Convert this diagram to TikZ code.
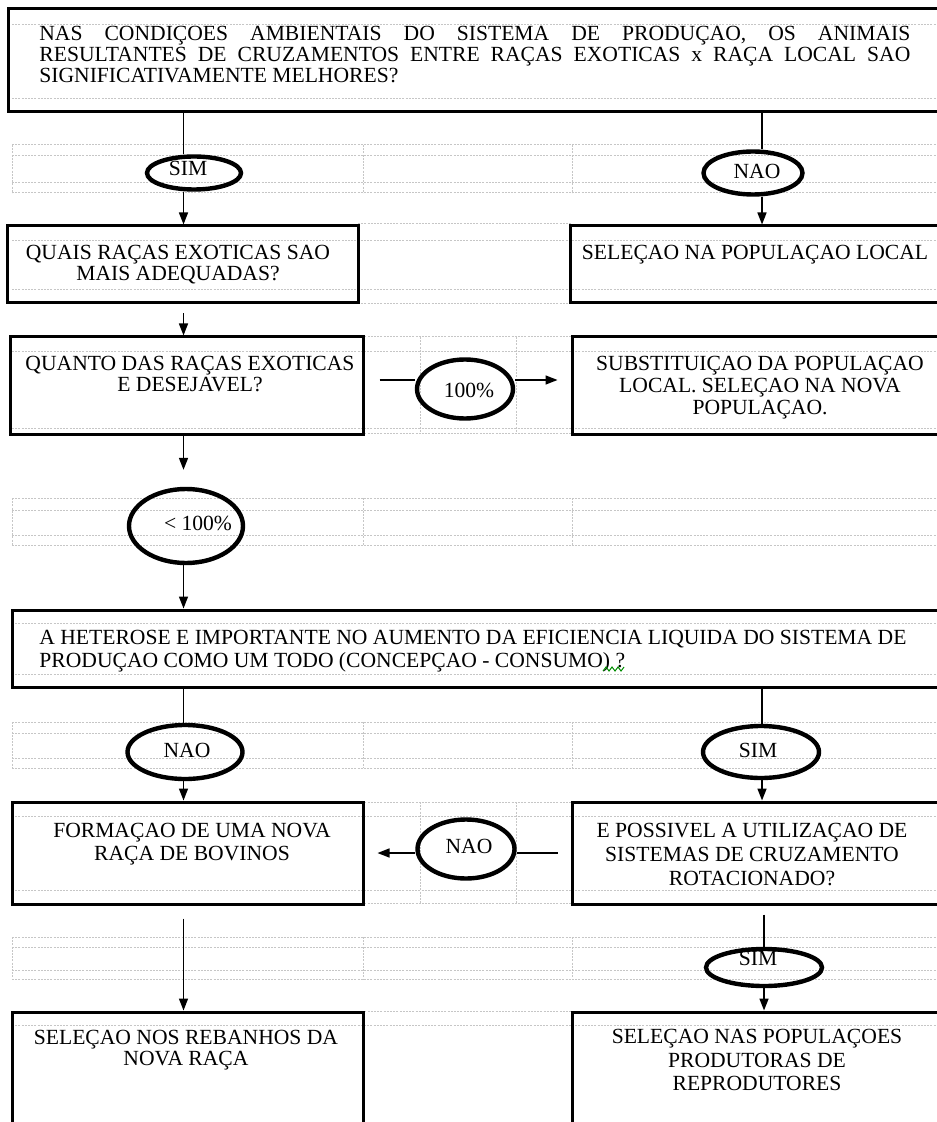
\documentclass[tikz,border=0pt]{standalone}
\usepackage{fontspec}
\setmainfont{Liberation Serif}
\usetikzlibrary{shapes.geometric, arrows.meta}

\tikzset{
	box/.style={draw, line width=1.5pt, rectangle, inner sep=0pt},
	oval/.style={draw, line width=2.2pt, ellipse, inner sep=0pt},
	txt/.style={inner sep=0pt, font=\fontsize{10.8}{11}\selectfont, align=center},
	link/.style={line width=0.8pt},
	arrow/.style={line width=0.8pt, -{Triangle[width=4.5pt,length=6pt]}},
	cell/.style={gray!45, line width=0.5pt, dash pattern=on 1pt off 0.6pt},
}

\begin{document}
\begin{tikzpicture}[x=0.5pt, y=-0.5pt]
	\useasboundingbox (0,0) rectangle (936,1122);
	
	% table grid behind the boxes
	\foreach \y in {25,99,145,156,183,193,241,290,352,428,498,510,535,545,623,674,722,733,758,768,816,890,937,947,970,979,1025}
		\draw[cell] (12,\y) -- (936,\y);
	\foreach \y in {224,304,337,433,802,903,1011}
		\draw[cell] (358,\y) -- (572,\y);
	\foreach \ya/\yb in {145/193,498/545,722/768,937/979}
		\foreach \x in {12,363,572}
			\draw[cell] (\x,\ya) -- (\x,\yb);
	\foreach \ya/\yb in {337/433,802/903}
		\foreach \x in {420,516}
			\draw[cell] (\x,\ya) -- (\x,\yb);
	
	% columns and rows of the connectors
	\coordinate (colL) at (183.5,0);
	\coordinate (colR) at (762,0);
	\coordinate (colS) at (764,0);
	\coordinate (rowD) at (0,380);
	\coordinate (rowH) at (0,853);
	
	% boxes
	\node[box, minimum width=469.5pt, minimum height=51.5pt] (topq) at (477.5,60.5) {};
	\node[box, minimum width=175.5pt, minimum height=38.5pt] (qexot) at (182.5,264.5) {};
	\node[box, minimum width=188.5pt, minimum height=38.5pt] (sloc) at (758.5,264.5) {};
	\node[box, minimum width=176.5pt, minimum height=48.5pt] (qdes) at (186.5,385.5) {};
	\node[box, minimum width=187.5pt, minimum height=48.5pt] (subs) at (759.5,385.5) {};
	\node[box, minimum width=467.5pt, minimum height=38.5pt] (het) at (479.5,648.5) {};
	\node[box, minimum width=175.5pt, minimum height=51pt] (form) at (187.5,853) {};
	\node[box, minimum width=187.5pt, minimum height=51pt] (rot) at (759.5,853) {};
	\node[box, minimum width=175.5pt, minimum height=61.5pt] (selr) at (187.5,1073.5) {};
	\node[box, minimum width=187.5pt, minimum height=61.5pt] (selp) at (759.5,1073.5) {};
	
	% box texts
	\node[txt, align=left, anchor=north west, font=\fontsize{10.8}{10.5}\selectfont] (topq-t) at (39,26)
		{\makebox[435.5pt][s]{NAS CONDIÇOES AMBIENTAIS DO SISTEMA DE PRODUÇAO, OS ANIMAIS}\\
		 \makebox[435.5pt][s]{RESULTANTES DE CRUZAMENTOS ENTRE RAÇAS EXOTICAS x RAÇA LOCAL SAO}\\
		 SIGNIFICATIVAMENTE MELHORES?};
	\node[txt, anchor=north, font=\fontsize{10.8}{10.5}\selectfont] (qexot-t) at (178,245) {QUAIS RAÇAS EXOTICAS SAO\\MAIS ADEQUADAS?};
	\node[txt, anchor=north] (sloc-t) at (755,245) {SELEÇAO NA POPULAÇAO LOCAL};
	\node[txt, anchor=north, font=\fontsize{10.8}{10.5}\selectfont] (qdes-t) at (190,356) {QUANTO DAS RAÇAS EXOTICAS\\E DESEJAVEL?};
	\node[txt, anchor=north] (subs-t) at (760,356) {SUBSTITUIÇAO DA POPULAÇAO\\LOCAL. SELEÇAO NA NOVA\\POPULAÇAO.};
	\node[txt, align=left, anchor=north west, font=\fontsize{10.8}{11.5}\selectfont] (het-t) at (39,630)
		{A HETEROSE E IMPORTANTE NO AUMENTO DA EFICIENCIA LIQUIDA DO SISTEMA DE\\
		 PRODUÇAO COMO UM TODO (CONCEPÇAO - CONSUMO) ?};
	\draw[green!55!black, line width=0.5pt] (603,671) -- (606,667) -- (609,671) -- (612,667) -- (615,671) -- (618,667) -- (621,671) -- (624,667);
	\node[txt, anchor=north, font=\fontsize{10.8}{11.5}\selectfont] (form-t) at (192,823) {FORMAÇAO DE UMA NOVA\\RAÇA DE BOVINOS};
	\node[txt, anchor=north, font=\fontsize{10.8}{12}\selectfont] (rot-t) at (752,823) {E POSSIVEL A UTILIZAÇAO DE\\SISTEMAS DE CRUZAMENTO\\ROTACIONADO?};
	\node[txt, anchor=north, font=\fontsize{10.8}{10.5}\selectfont] (selr-t) at (186,1030) {SELEÇAO NOS REBANHOS DA\\NOVA RAÇA};
	\node[txt, anchor=north, font=\fontsize{10.8}{11.75}\selectfont] (selp-t) at (757,1029) {SELEÇAO NAS POPULAÇOES\\PRODUTORAS DE\\REPRODUTORES};
	
	% answers
	\node[txt] (srot-t) at (758,958) {SIM};
	\node[oval, minimum width=47pt, minimum height=16.5pt] (ysim) at (194,173) {};
	\node[oval, minimum width=49.5pt, minimum height=21.5pt] (nloc) at (753,173) {};
	\node[oval, minimum width=48pt, minimum height=29.5pt] (p100) at (465,389) {};
	\node[oval, minimum width=57pt, minimum height=37pt] (plt) at (186,526) {};
	\node[oval, minimum width=57.5pt, minimum height=27pt] (nhet) at (185,752) {};
	\node[oval, minimum width=58pt, minimum height=26pt] (shet) at (761,752) {};
	\node[oval, minimum width=48.5pt, minimum height=29.5pt] (nrot) at (466,849) {};
	\node[oval, minimum width=58pt, minimum height=18.5pt] (srot) at (764,967.5) {};
	
	\node[txt] (ysim-t) at (188,168) {SIM};
	\node[txt] (nloc-t) at (757,171) {NAO};
	\node[txt] (p100-t) at (469,390) {100\%};
	\node[txt] (plt-t) at (198,523) {< 100\%};
	\node[txt] (nhet-t) at (187,750) {NAO};
	\node[txt] (shet-t) at (758,750) {SIM};
	\node[txt] (nrot-t) at (469,846) {NAO};
	
	% connectors
	\draw[link] (topq.south -| colL) -- (ysim.north -| colL);
	\draw[arrow] (ysim.south -| colL) -- (qexot.north -| colL);
	\draw[link] (topq.south -| colR) -- (nloc.north -| colR);
	\draw[arrow] (nloc.south -| colR) -- (sloc.north -| colR);
	\draw[arrow, shorten <=4.5pt] (qexot.south -| colL) -- (qdes.north -| colL);
	\draw[link, shorten <=7.5pt] (qdes.east |- rowD) -- (p100.west |- rowD);
	\draw[arrow, shorten >=6.5pt] (p100.east |- rowD) -- (subs.west |- rowD);
	\draw[arrow, shorten >=8.5pt] (qdes.south -| colL) -- (plt.north -| colL);
	\draw[arrow] (plt.south -| colL) -- (het.north -| colL);
	\draw[link] (het.south -| colL) -- (nhet.north -| colL);
	\draw[arrow] (nhet.south -| colL) -- (form.north -| colL);
	\draw[link] (het.south -| colR) -- (shet.north -| colR);
	\draw[arrow] (shet.south -| colR) -- (rot.north -| colR);
	\draw[link, shorten <=6.5pt] (rot.west |- rowH) -- (nrot.east |- rowH);
	\draw[arrow, shorten >=6.5pt] (nrot.west |- rowH) -- (form.east |- rowH);
	\draw[arrow, shorten <=6.5pt] (form.south -| colL) -- (selr.north -| colL);
	\draw[link, shorten <=4.5pt] (rot.south -| colS) -- (srot.north -| colS);
	\draw[arrow] (srot.south -| colS) -- (selp.north -| colS);
	
\end{tikzpicture}
\end{document}
